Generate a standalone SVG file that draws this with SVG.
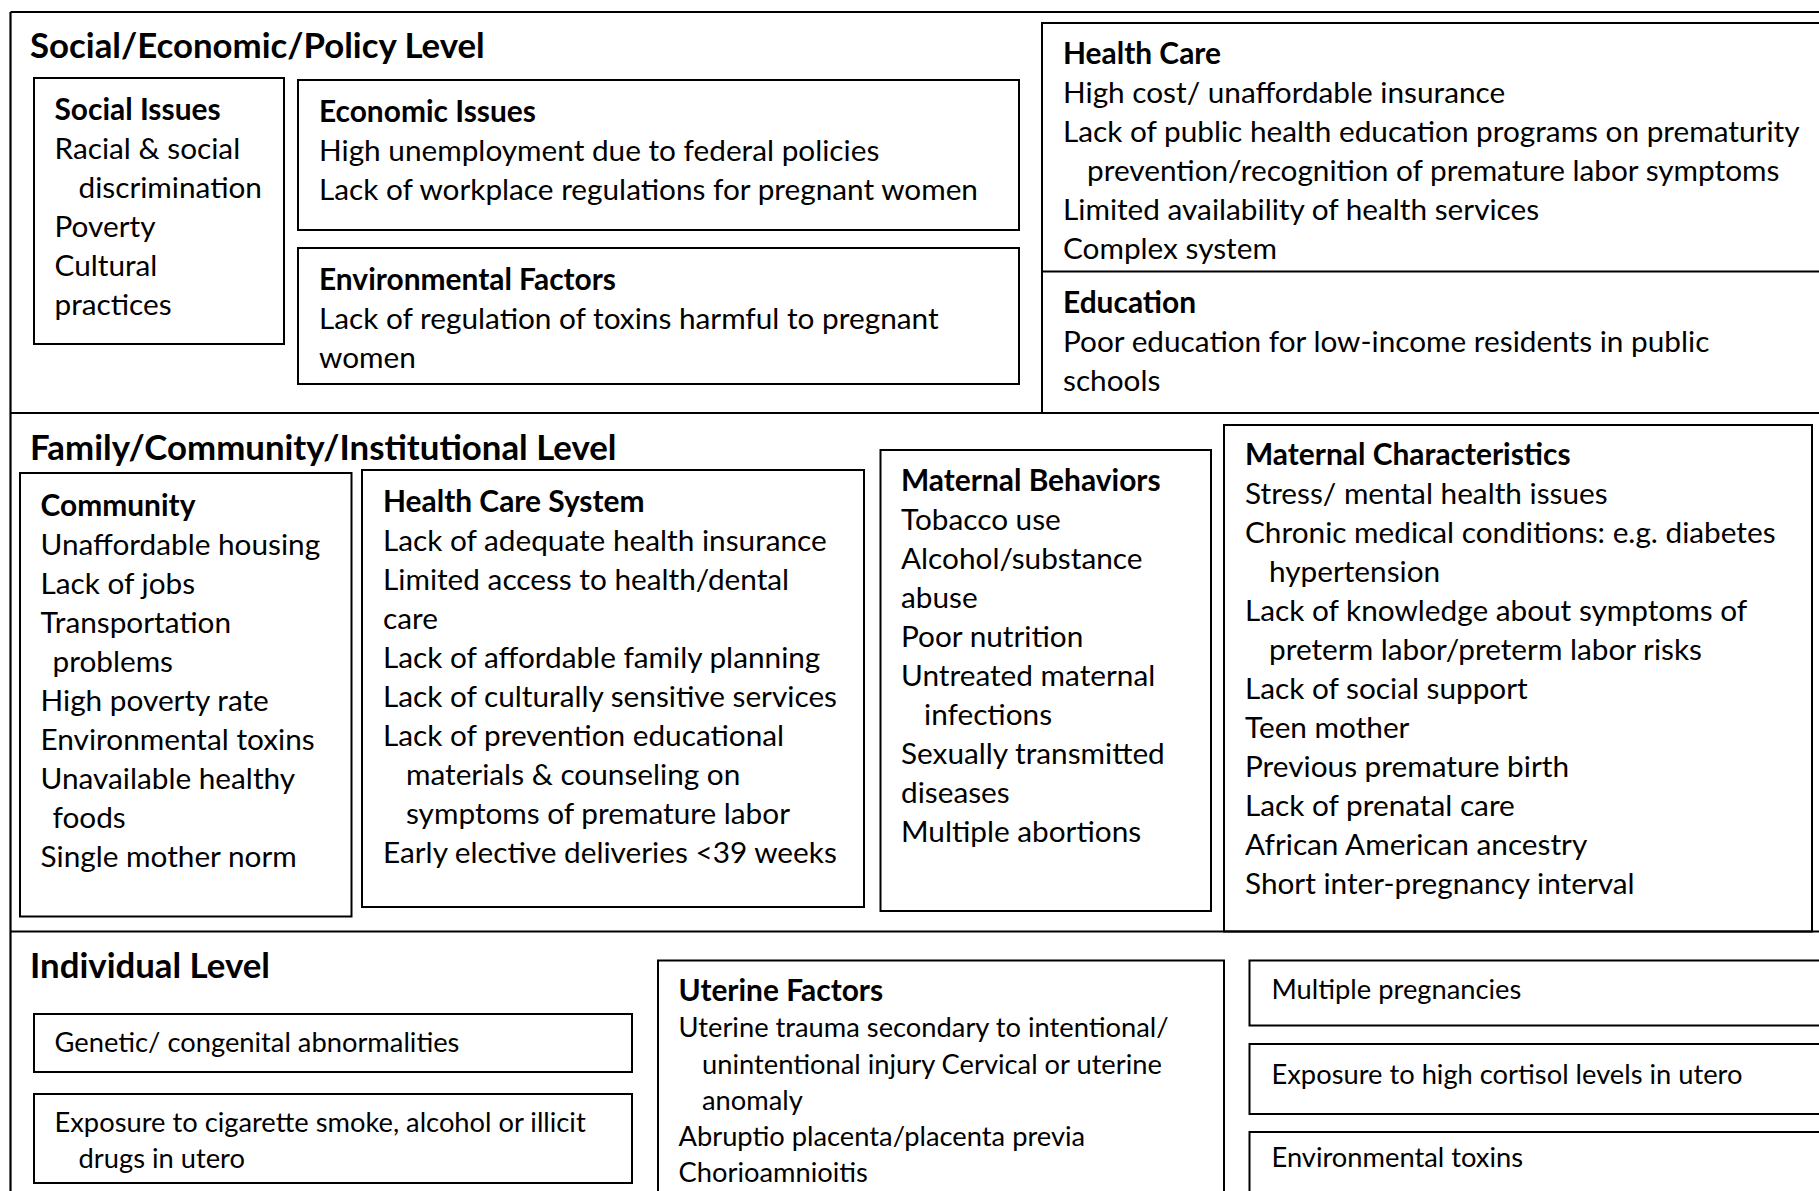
<svg xmlns="http://www.w3.org/2000/svg" width="1819" height="1191" viewBox="0 0 1819 1191">
<style>
  .bx{fill:none;stroke:#000;stroke-width:2}
  .ln{stroke:#000;stroke-width:2.2;fill:none}
  text{font-family:Lato,"Liberation Sans",sans-serif;fill:#000}
  .t{font-size:34.8px;font-weight:bold}
  .h{font-size:29.9px;font-weight:bold}
  .b{font-size:29.75px}
  .s{font-size:27.3px}
</style>
<rect width="1819" height="1191" fill="#fff"/>
<g id="frame">
  <line class="ln" x1="10.5" y1="12" x2="1830" y2="12"/>
  <line class="ln" x1="10.5" y1="12" x2="10.5" y2="1200"/>
  <line class="ln" x1="10.5" y1="413" x2="1830" y2="413"/>
  <line class="ln" x1="10.5" y1="931.5" x2="1830" y2="931.5"/>
</g>
<g id="connectors"/>

<g id="level-social">
  <text class="t" x="30" y="58">Social/Economic/Policy Level</text>
</g>
<g id="social-issues">
  <rect class="bx" x="34" y="78" width="250" height="266"/>
  <text class="h" x="54.5" y="120">Social Issues</text>
  <text class="b" x="54.5" y="159">Racial &amp; social</text>
  <text class="b" x="78.5" y="198">discrimination</text>
  <text class="b" x="54.5" y="237">Poverty</text>
  <text class="b" x="54.5" y="276">Cultural</text>
  <text class="b" x="54.5" y="315">practices</text>
</g>
<g id="economic-issues">
  <rect class="bx" x="298" y="80" width="721" height="150"/>
  <text class="h" x="319" y="122">Economic Issues</text>
  <text class="b" x="319" y="161">High unemployment due to federal policies</text>
  <text class="b" x="319" y="200">Lack of workplace regulations for pregnant women</text>
</g>
<g id="environmental-factors">
  <rect class="bx" x="298" y="248" width="721" height="136"/>
  <text class="h" x="319" y="290">Environmental Factors</text>
  <text class="b" x="319" y="329">Lack of regulation of toxins harmful to pregnant</text>
  <text class="b" x="319" y="368">women</text>
</g>
<g id="health-care">
  <rect class="bx" x="1042" y="23" width="800" height="390"/>
  <line class="ln" x1="1042" y1="271.5" x2="1830" y2="271.5"/>
  <text class="h" x="1063" y="64">Health Care</text>
  <text class="b" x="1063" y="103">High cost/ unaffordable insurance</text>
  <text class="b" x="1063" y="142">Lack of public health education programs on prematurity</text>
  <text class="b" x="1087" y="181">prevention/recognition of premature labor symptoms</text>
  <text class="b" x="1063" y="220">Limited availability of health services</text>
  <text class="b" x="1063" y="259">Complex system</text>
</g>
<g id="education">
  <text class="h" x="1063" y="313">Education</text>
  <text class="b" x="1063" y="352">Poor education for low-income residents in public</text>
  <text class="b" x="1063" y="391">schools</text>
</g>

<g id="level-family">
  <text class="t" x="30" y="460">Family/Community/Institutional Level</text>
</g>
<g id="community">
  <rect class="bx" x="20" y="473" width="331.5" height="443.5"/>
  <text class="h" x="40.5" y="516">Community</text>
  <text class="b" x="40.5" y="555">Unaffordable housing</text>
  <text class="b" x="40.5" y="594">Lack of jobs</text>
  <text class="b" x="40.5" y="633">Transportation</text>
  <text class="b" x="52.5" y="672">problems</text>
  <text class="b" x="40.5" y="711">High poverty rate</text>
  <text class="b" x="40.5" y="750">Environmental toxins</text>
  <text class="b" x="40.5" y="789">Unavailable healthy</text>
  <text class="b" x="52.5" y="828">foods</text>
  <text class="b" x="40.5" y="867">Single mother norm</text>
</g>
<g id="health-care-system">
  <rect class="bx" x="362" y="470" width="502" height="437"/>
  <text class="h" x="383" y="512">Health Care System</text>
  <text class="b" x="383" y="551">Lack of adequate health insurance</text>
  <text class="b" x="383" y="590">Limited access to health/dental</text>
  <text class="b" x="383" y="629">care</text>
  <text class="b" x="383" y="668">Lack of affordable family planning</text>
  <text class="b" x="383" y="707">Lack of culturally sensitive services</text>
  <text class="b" x="383" y="746">Lack of prevention educational</text>
  <text class="b" x="406" y="785">materials &amp; counseling on</text>
  <text class="b" x="406" y="824">symptoms of premature labor</text>
  <text class="b" x="383" y="863">Early elective deliveries &lt;39 weeks</text>
</g>
<g id="maternal-behaviors">
  <rect class="bx" x="880.5" y="450" width="330.5" height="461"/>
  <text class="h" x="901" y="491">Maternal Behaviors</text>
  <text class="b" x="901" y="530">Tobacco use</text>
  <text class="b" x="901" y="569">Alcohol/substance</text>
  <text class="b" x="901" y="608">abuse</text>
  <text class="b" x="901" y="647">Poor nutrition</text>
  <text class="b" x="901" y="686">Untreated maternal</text>
  <text class="b" x="924" y="725">infections</text>
  <text class="b" x="901" y="764">Sexually transmitted</text>
  <text class="b" x="901" y="803">diseases</text>
  <text class="b" x="901" y="842">Multiple abortions</text>
</g>
<g id="maternal-characteristics">
  <rect class="bx" x="1224" y="425" width="588" height="506.5"/>
  <text class="h" x="1245" y="465">Maternal Characteristics</text>
  <text class="b" x="1245" y="504">Stress/ mental health issues</text>
  <text class="b" x="1245" y="543">Chronic medical conditions: e.g. diabetes</text>
  <text class="b" x="1269" y="582">hypertension</text>
  <text class="b" x="1245" y="621">Lack of knowledge about symptoms of</text>
  <text class="b" x="1269" y="660">preterm labor/preterm labor risks</text>
  <text class="b" x="1245" y="699">Lack of social support</text>
  <text class="b" x="1245" y="738">Teen mother</text>
  <text class="b" x="1245" y="777">Previous premature birth</text>
  <text class="b" x="1245" y="816">Lack of prenatal care</text>
  <text class="b" x="1245" y="855">African American ancestry</text>
  <text class="b" x="1245" y="894">Short inter-pregnancy interval</text>
</g>

<g id="level-individual">
  <text class="t" x="30" y="978">Individual Level</text>
</g>
<g id="genetic">
  <rect class="bx" x="34" y="1014" width="598" height="58"/>
  <text class="s" x="54.5" y="1052">Genetic/ congenital abnormalities</text>
</g>
<g id="exposure-smoke">
  <rect class="bx" x="34" y="1094" width="598" height="89"/>
  <text class="s" x="54.5" y="1132">Exposure to cigarette smoke, alcohol or illicit</text>
  <text class="s" x="78.5" y="1168">drugs in utero</text>
</g>
<g id="uterine-factors">
  <rect class="bx" x="658" y="960.5" width="566" height="260"/>
  <text class="h" x="678.5" y="1001">Uterine Factors</text>
  <text class="s" x="678.5" y="1037">Uterine trauma secondary to intentional/</text>
  <text class="s" x="702" y="1074">unintentional injury Cervical or uterine</text>
  <text class="s" x="702" y="1110">anomaly</text>
  <text class="s" x="678.5" y="1146">Abruptio placenta/placenta previa</text>
  <text class="s" x="678.5" y="1182">Chorioamnioitis</text>
</g>
<g id="multiple-pregnancies">
  <rect class="bx" x="1249.5" y="960.5" width="600" height="65"/>
  <text class="s" x="1271.5" y="999">Multiple pregnancies</text>
</g>
<g id="cortisol">
  <rect class="bx" x="1249.5" y="1044" width="600" height="70"/>
  <text class="s" x="1271.5" y="1083.5">Exposure to high cortisol levels in utero</text>
</g>
<g id="environmental-toxins">
  <rect class="bx" x="1249.5" y="1132" width="600" height="90"/>
  <text class="s" x="1271.5" y="1167">Environmental toxins</text>
</g>
</svg>
